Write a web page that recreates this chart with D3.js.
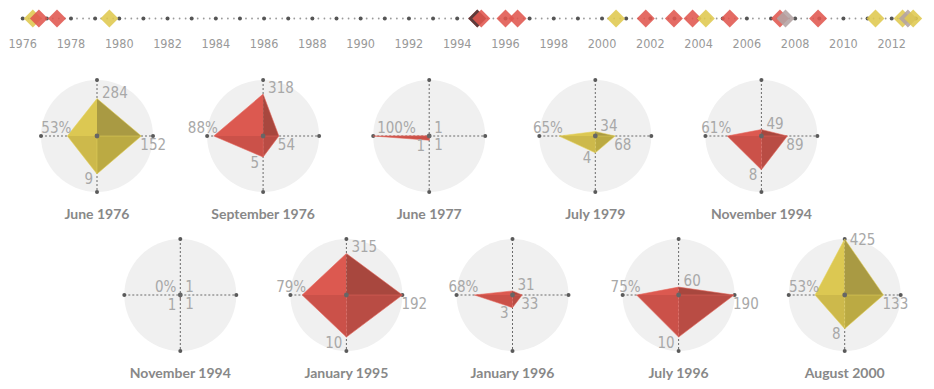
<!DOCTYPE html>
<html>
<head>
<meta charset="utf-8">
<script src="https://cdn.jsdelivr.net/npm/d3@7/dist/d3.min.js"></script>
<style>
  html, body { margin: 0; padding: 0; background: #fff; }
  svg { display: block; }
</style>
</head>
<body>
<svg id="chart" width="934" height="389"></svg>
<script>
// ---------- DATA ----------
const timelineYears = d3.range(1976, 2014);           // year ticks
const timelineLabels = d3.range(1976, 2013, 2);       // labelled years
const eventDates = [1976.42, 1976.67, 1977.42, 1979.59, 1994.83, 1994.83, 1995.0, 1996.0, 1996.5,
                    2000.58, 2001.81, 2002.98, 2003.75, 2004.3, 2005.29, 2007.37, 2007.6, 2008.95,
                    2011.33, 2012.45, 2012.67, 2012.89];
const eventColors = ["yellow","red","red","yellow","red","dark","red","red","red",
                     "yellow","red","red","red","yellow","red","red","gray","red",
                     "yellow","yellow","gray","yellow"];

const chartTitles  = ["June 1976","September 1976","June 1977","July 1979","November 1994",
                      "November 1994","January 1995","January 1996","July 1996","August 2000"];
const pctValues    = [53, 88, 100, 65, 61, 0, 79, 68, 75, 53];
const topValues    = [284, 318, 1, 34, 49, 1, 315, 31, 60, 425];
const rightValues  = [152, 54, 1, 68, 89, 1, 192, 33, 190, 133];
const bottomValues = [9, 5, 1, 4, 8, 1, 10, 3, 10, 8];
const chartColors  = ["yellow","red","red","yellow","red","dark","red","red","red","yellow"];

// ---------- STYLE ----------
const diamondFill = { yellow: "#dfc84e", red: "#e0574e", gray: "#b3a3a3", dark: "#4a3436" };
const facePalette = {
  yellow: { tl: "#dcc852", tr: "#a99a43", br: "#bbaa43", bl: "#cdb94b", edge: "#e6d35e" },
  red:    { tl: "#dc5950", tr: "#a8473e", br: "#b94c44", bl: "#cb5149", edge: "#e6665c" },
  dark:   { tl: "#6a5050", tr: "#3e2e2e", br: "#4c3838", bl: "#5a4444", edge: "#7a6060" }
};
const labelFont = "'Liberation Sans Narrow', 'DejaVu Sans Condensed', 'Roboto', sans-serif";
const titleFont = "Lato, 'Open Sans', sans-serif";

const svg = d3.select("#chart");

// ---------- TIMELINE ----------
const tx = d3.scaleLinear().domain([1976, 2012]).range([22.7, 891.7]);
const ty = 18.5;
const tl = svg.append("g");

const quarterTicks = [];
timelineYears.slice(0, -1).forEach(y => [0.25, 0.5, 0.75].forEach(q => quarterTicks.push(y + q)));
tl.selectAll("circle.q").data(quarterTicks).join("circle")
  .attr("cx", d => tx(d)).attr("cy", ty).attr("r", 0.9).attr("fill", "#9a9a9a");
tl.selectAll("circle.y").data(timelineYears).join("circle")
  .attr("cx", d => tx(d)).attr("cy", ty).attr("r", 2).attr("fill", "#555");
tl.selectAll("text").data(timelineLabels).join("text")
  .attr("x", d => tx(d)).attr("y", 47.5).attr("text-anchor", "middle")
  .attr("font-family", labelFont).attr("font-size", 12.5).attr("fill", "#999")
  .text(d => d);

const dh = 9;
tl.selectAll("path.ev").data(eventDates).join("path")
  .attr("d", (d) => { const x = tx(d); return `M${x},${ty - dh}L${x + dh},${ty}L${x},${ty + dh}L${x - dh},${ty}Z`; })
  .attr("fill", (d, i) => diamondFill[eventColors[i]])
  .attr("fill-opacity", 0.88);

// ---------- RADARS ----------
const R = 56;
const rPct = d3.scaleLinear().domain([0, 100]).range([0, R]);
const rTop = d3.scaleLinear().domain([0, 425]).range([0, R]);
const rRight = d3.scaleLinear().domain([0, 192]).range([0, R]);
const rBottom = d3.scaleLinear().domain([0, 13.3]).range([0, R]);

chartTitles.forEach((title, i) => {
  const row = Math.floor(i / 5), col = i % 5;
  const cx = 97 + col * 166.1 + row * 83.3;
  const cy = 136 + row * 159;
  const g = svg.append("g");
  const pal = facePalette[chartColors[i]];

  g.append("circle").attr("cx", cx).attr("cy", cy).attr("r", R).attr("fill", "#f0f0f0");

  // axes
  g.append("line").attr("x1", cx).attr("y1", cy - R).attr("x2", cx).attr("y2", cy + R)
    .attr("stroke", "#6a6a6a").attr("stroke-width", 1).attr("stroke-dasharray", "2,2");
  g.append("line").attr("x1", cx - R).attr("y1", cy).attr("x2", cx + R).attr("y2", cy)
    .attr("stroke", "#6a6a6a").attr("stroke-width", 1).attr("stroke-dasharray", "2,2");
  [[cx, cy - R], [cx + R, cy], [cx, cy + R], [cx - R, cy]].forEach(p =>
    g.append("circle").attr("cx", p[0]).attr("cy", p[1]).attr("r", 2).attr("fill", "#5a5a5a"));

  const T = [cx, cy - rTop(topValues[i])];
  const Rt = [cx + rRight(rightValues[i]), cy];
  const B = [cx, cy + rBottom(bottomValues[i])];
  const L = [cx - rPct(pctValues[i]), cy];
  const C = [cx, cy];
  const tri = (a, b) => `M${C[0]},${C[1]}L${a[0]},${a[1]}L${b[0]},${b[1]}Z`;

  g.append("path").attr("d", tri(L, T)).attr("fill", pal.tl);
  g.append("path").attr("d", tri(T, Rt)).attr("fill", pal.tr);
  g.append("path").attr("d", tri(Rt, B)).attr("fill", pal.br);
  g.append("path").attr("d", tri(B, L)).attr("fill", pal.bl);
  g.append("path").attr("d", `M${T}L${Rt}L${B}L${L}Z`)
    .attr("fill", "none").attr("stroke", pal.edge).attr("stroke-width", 0.8).attr("stroke-opacity", 0.7);
  g.append("path").attr("d", `M${Rt}L${C}L${B}`)
    .attr("fill", "none").attr("stroke", pal.edge).attr("stroke-width", 0.8).attr("stroke-opacity", 0.6);

  g.append("circle").attr("cx", cx).attr("cy", cy).attr("r", 2.4).attr("fill", "#666");

  const lab = (x, y, anchor, txt) => g.append("text").attr("x", x).attr("y", y)
    .attr("text-anchor", anchor).attr("font-family", labelFont).attr("font-size", 15)
    .attr("fill", "#a8a8a8").text(txt);

  // top
  lab(cx + 5, Math.min(Math.max(T[1] - 1, cy - R + 6), cy - 3), "start", topValues[i]);
  // right
  lab(Math.max(Rt[0] - 1, cx + 5), cy + 14, "start", rightValues[i]);
  // bottom
  lab(cx - 4, B[1] + 10.5, "end", bottomValues[i]);
  // left (percentage)
  if (pctValues[i] >= 95) lab(L[0] + 4, cy - 3, "start", pctValues[i] + "%");
  else lab(Math.min(L[0] + 4, cx - 4), cy - 3, "end", pctValues[i] + "%");

  g.append("text").attr("x", cx).attr("y", cy + 83).attr("text-anchor", "middle")
    .attr("font-family", titleFont).attr("font-weight", 700).attr("font-size", 14)
    .attr("fill", "#888").text(title);
});
</script>
</body>
</html>
